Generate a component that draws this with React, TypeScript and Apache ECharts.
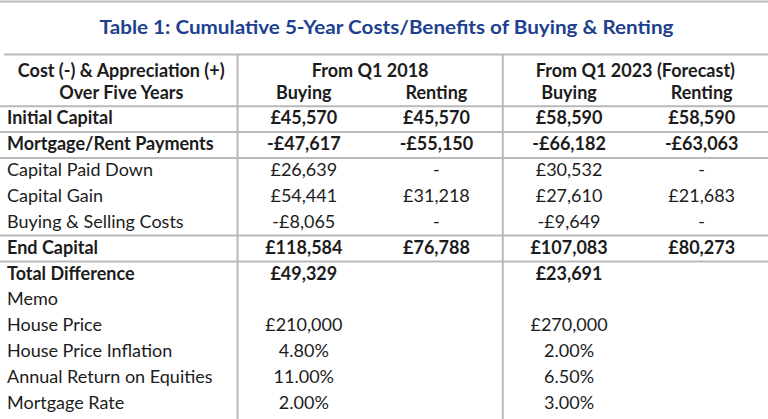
import React, { useEffect, useRef } from "react";
import * as echarts from "echarts";

const TITLE = "Table 1: Cumulative 5-Year Costs/Benefits of Buying & Renting";
const cornerHeader = ["Cost (-) & Appreciation (+)", "Over Five Years"];
const periodHeaders = ["From Q1 2018", "From Q1 2023 (Forecast)"];
const scenarioHeaders = ["Buying", "Renting", "Buying", "Renting"];
const rowLabels = [
  "Initial Capital",
  "Mortgage/Rent Payments",
  "Capital Paid Down",
  "Capital Gain",
  "Buying & Selling Costs",
  "End Capital",
  "Total Difference",
  "Memo",
  "House Price",
  "House Price Inflation",
  "Annual Return on Equities",
  "Mortgage Rate",
];
const boldRows = [true, true, false, false, false, true, true, false, false, false, false, false];
const rowFormats = ["gbp", "gbp", "gbp", "gbp", "gbp", "gbp", "gbp", "none", "gbp", "pct", "pct", "pct"];
const buying2018 = [45570, -47617, 26639, 54441, -8065, 118584, 49329, null, 210000, 4.8, 11.0, 2.0];
const renting2018 = [45570, -55150, 0, 31218, 0, 76788, null, null, null, null, null, null];
const buying2023 = [58590, -66182, 30532, 27610, -9649, 107083, 23691, null, 270000, 2.0, 6.5, 3.0];
const renting2023 = [58590, -63063, 0, 21683, 0, 80273, null, null, null, null, null, null];
// rules drawn below these rows (row index counted including the 2 header rows)
const ruleAfterRows = [1, 2, 3, 6, 7];

const valueColumns = [buying2018, renting2018, buying2023, renting2023];
const columnNames = ["Buying 2018", "Renting 2018", "Buying 2023", "Renting 2023"];
const yCategories = ["header1", "header2", ...rowLabels];

const FONT = "Lato";
const TEXT = "#1c1c1c";
const RULE = "#b9b9b9";

function withCommas(n: number): string {
  const s = Math.round(n).toString();
  return s.replace(/\B(?=(\d{3})+(?!\d))/g, ",");
}
function fmt(v: number | null, kind: string): string {
  if (v === null || v === undefined) return "";
  if (kind === "pct") return v.toFixed(2) + "%";
  if (kind === "gbp") {
    if (v === 0) return "-";
    return (v < 0 ? "-£" : "£") + withCommas(Math.abs(v));
  }
  return String(v);
}

type Cell = { col: number; row: number; text: string; bold: boolean; kind: string };

const cells: Cell[] = [];
cornerHeader.forEach((t, i) => cells.push({ col: 0, row: i, text: t, bold: true, kind: "corner" }));
periodHeaders.forEach((t, i) => cells.push({ col: i * 2, row: 0, text: t, bold: true, kind: "span" }));
scenarioHeaders.forEach((t, i) => cells.push({ col: i, row: 1, text: t, bold: true, kind: "value" }));
rowLabels.forEach((t, r) => {
  cells.push({ col: 0, row: r + 2, text: t, bold: boldRows[r], kind: "label" });
  valueColumns.forEach((colVals, c) => {
    const txt = fmt(colVals[r], rowFormats[r]);
    if (txt) cells.push({ col: c, row: r + 2, text: txt, bold: boldRows[r], kind: "value" });
  });
});

export default function App() {
  const ref = useRef<HTMLDivElement>(null);
  useEffect(() => {
    if (!ref.current) return;
    const chart = echarts.init(ref.current, undefined, { renderer: "svg" });

    const canvas = document.createElement("canvas");
    const ctx = canvas.getContext("2d")!;
    ctx.font = `bold 19.5px ${FONT}`;
    const titleW = ctx.measureText(TITLE).width || 575;
    const titleScale = 575 / titleW;

    const bodySize = 18;
    const headerShift = [4.5, 1];

    const option: any = {
      animation: false,
      backgroundColor: "#ffffff",
      grid: { left: 237.5, right: 0, top: 52.6, bottom: 4.1 },
      xAxis: { type: "category", data: columnNames, show: false },
      yAxis: { type: "category", data: yCategories, inverse: true, show: false },
      graphic: [
        {
          type: "line",
          shape: { x1: 0, y1: 1.5, x2: 768, y2: 1.5 },
          style: { stroke: RULE, lineWidth: 2 },
        },
        {
          type: "text",
          x: 386.5,
          y: 26.5,
          scaleX: titleScale,
          style: {
            text: TITLE,
            fill: "#203f8f",
            fontFamily: FONT,
            fontWeight: "bold",
            fontSize: 19.5,
            align: "center",
            verticalAlign: "middle",
          },
        },
        {
          type: "line",
          shape: { x1: 4, y1: 54.5, x2: 768, y2: 54.5 },
          style: { stroke: RULE, lineWidth: 2 },
        },
      ],
      series: [
        {
          type: "custom",
          clip: false,
          data: ruleAfterRows.map((r) => [0, r]),
          encode: { x: 0, y: 1 },
          z: 1,
          renderItem: (params: any, api: any) => {
            const cs = params.coordSys;
            const r = api.value(1);
            const p = api.coord([0, r]);
            const bh = api.size([0, 1])[1];
            const y = p[1] + bh / 2 + 1.8;
            const children: any[] = [
              {
                type: "line",
                shape: { x1: 0, y1: y, x2: api.getWidth(), y2: y },
                style: { stroke: RULE, lineWidth: 2 },
              },
            ];
            if (params.dataIndex === 0) {
              const xs = [cs.x, cs.x + cs.width / 2];
              xs.forEach((x) =>
                children.push({
                  type: "line",
                  shape: { x1: x, y1: 54.5, x2: x, y2: api.getHeight() },
                  style: { stroke: RULE, lineWidth: 2 },
                })
              );
            }
            return { type: "group", children };
          },
        },
        {
          type: "custom",
          clip: false,
          z: 2,
          data: cells.map((c) => [c.col, c.row]),
          encode: { x: 0, y: 1 },
          renderItem: (params: any, api: any) => {
            const cell = cells[params.dataIndex];
            const cs = params.coordSys;
            const p = api.coord([cell.col, cell.row]);
            let x = p[0];
            let align = "center";
            let y = p[1];
            if (cell.row < 2) y += headerShift[cell.row];
            if (cell.kind === "label") {
              x = 7;
              align = "left";
            } else if (cell.kind === "corner") {
              x = cs.x / 2 + 2.5;
            } else if (cell.kind === "span") {
              const p2 = api.coord([cell.col + 1, cell.row]);
              x = (p[0] + p2[0]) / 2;
            }
            return {
              type: "text",
              x,
              y,
              style: {
                text: cell.text,
                fill: TEXT,
                fontFamily: FONT,
                fontWeight: cell.bold ? "bold" : "normal",
                fontSize: bodySize,
                align,
                verticalAlign: "middle",
              },
            };
          },
        },
      ],
    };
    chart.setOption(option);
    return () => chart.dispose();
  }, []);
  return (
    <div
      ref={ref}
      style={{ position: "fixed", left: 0, top: 0, width: 768, height: 419, background: "#fff" }}
    />
  );
}
